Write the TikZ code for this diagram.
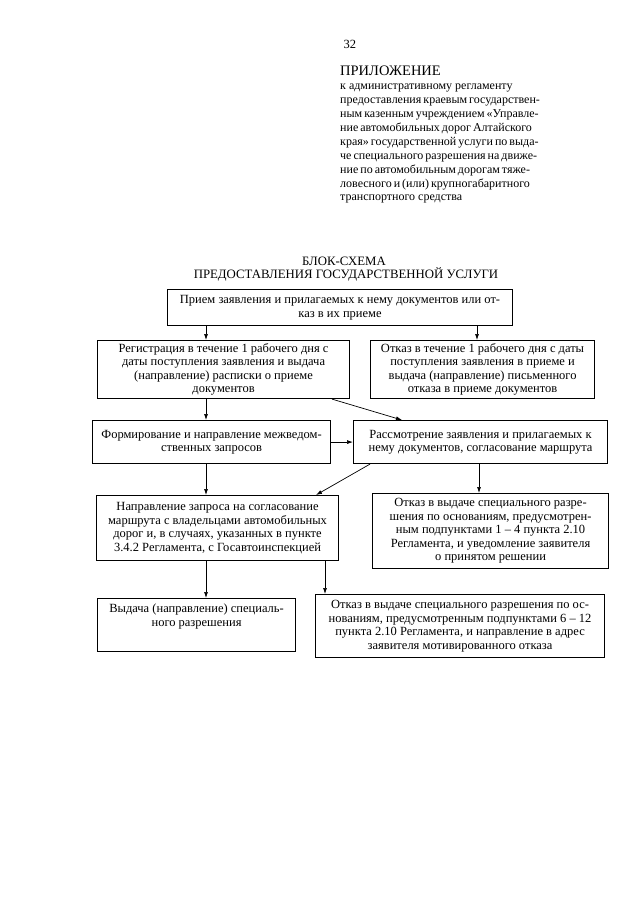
\documentclass[tikz,border=0pt]{standalone}
\usepackage{fontspec}
\setmainfont{Liberation Serif}
\usetikzlibrary{arrows.meta}
\tikzset{
  box/.style={draw, line width=1.1pt, align=center, inner sep=1pt,
    font=\fontsize{12.5pt}{13.5pt}\selectfont, anchor=north west},
  arr/.style={line width=0.7pt, -{Latex[length=6pt,width=4pt]}},
}
\newcommand{\jl}[1]{\makebox[189pt][s]{#1}\\}
\begin{document}
\begin{tikzpicture}[x=1pt,y=1pt]
\path[use as bounding box, fill=white] (0,0) rectangle (640,-905);
% header
\node[anchor=base west, font=\fontsize{12.5pt}{13pt}\selectfont] (pg) at (340,-48) {32};
\node[anchor=north west, inner sep=0pt, align=left, font=\fontsize{12pt}{13.9pt}\selectfont] (hdr) at (340,-66) {%
{\fontsize{14.5pt}{15pt}\selectfont ПРИЛОЖЕНИЕ}\\
к административному регламенту\\
\jl{предоставления краевым государствен-}
\jl{ным казенным учреждением «Управле-}
\jl{ние автомобильных дорог Алтайского}
\jl{края» государственной услуги по выда-}
\jl{че специального разрешения на движе-}
\jl{ние по автомобильным дорогам тяже-}
\jl{ловесного и (или) крупногабаритного}
транспортного средства};
% title
\node[anchor=base, font=\fontsize{12.8pt}{13pt}\selectfont] (t1) at (344,-265) {БЛОК-СХЕМА};
\node[anchor=base, font=\fontsize{12.8pt}{13pt}\selectfont] (t2) at (346,-278) {ПРЕДОСТАВЛЕНИЯ ГОСУДАРСТВЕННОЙ УСЛУГИ};
% boxes
\node[box, minimum width=345, minimum height=36] (b1) at (167,-289) {Прием заявления и прилагаемых к нему документов или от-\\каз в их приеме};
\node[box, minimum width=252, minimum height=58] (b2) at (97,-340) {Регистрация в течение 1 рабочего дня с\\даты поступления заявления и выдача\\(направление) расписки о приеме\\документов};
\node[box, minimum width=224, minimum height=58] (b3) at (370,-340) {Отказ в течение 1 рабочего дня с даты\\поступления заявления в приеме и\\выдача (направление) письменного\\отказа в приеме документов};
\node[box, minimum width=238, minimum height=43] (b4) at (92,-420) {Формирование и направление межведом-\\ственных запросов};
\node[box, minimum width=254, minimum height=43] (b5) at (353,-420) {Рассмотрение заявления и прилагаемых к\\нему документов, согласование маршрута};
\node[box, minimum width=242, minimum height=65] (b6) at (96,-495) {Направление запроса на согласование\\маршрута с владельцами автомобильных\\дорог и, в случаях, указанных в пункте\\3.4.2 Регламента, с Госавтоинспекцией};
\node[box, minimum width=236, minimum height=75] (b7) at (372,-493) {Отказ в выдаче специального разре-\\шения по основаниям, предусмотрен-\\ным подпунктами 1 – 4 пункта 2.10\\Регламента, и уведомление заявителя\\о принятом решении};
\node[box, minimum width=198, minimum height=53] (b8) at (97,-598) {Выдача (направление) специаль-\\ного разрешения\\[6pt]};
\node[box, minimum width=289, minimum height=63] (b9) at (315,-594) {Отказ в выдаче специального разрешения по ос-\\нованиям, предусмотренным подпунктами 6 – 12\\пункта 2.10 Регламента, и направление в адрес\\заявителя мотивированного отказа};
% connector x positions
\coordinate (xa) at (206,0);
\coordinate (xb) at (477,0);
\coordinate (xc) at (332,0);
\coordinate (xd) at (402,0);
\coordinate (xe) at (370,0);
\coordinate (xf) at (316,0);
\coordinate (xg) at (479,0);
\coordinate (xh) at (325,0);
% connectors
\draw[arr] (b1.south -| xa) -- (b2.north -| xa);
\draw[arr] (b1.south -| xb) -- (b3.north -| xb);
\draw[arr] (b2.south -| xa) -- (b4.north -| xa);
\draw[arr] (b2.south -| xc) -- (b5.north -| xd);
\draw[arr] (b4.east) -- (b5.west);
\draw[arr] (b4.south -| xa) -- (b6.north -| xa);
\draw[arr] (b5.south -| xe) -- (b6.north -| xf);
\draw[arr] (b5.south -| xg) -- (b7.north -| xg);
\draw[arr] (b6.south -| xa) -- (b8.north -| xa);
\draw[arr] (b6.south -| xh) -- (b9.north -| xh);
\end{tikzpicture}
\end{document}
